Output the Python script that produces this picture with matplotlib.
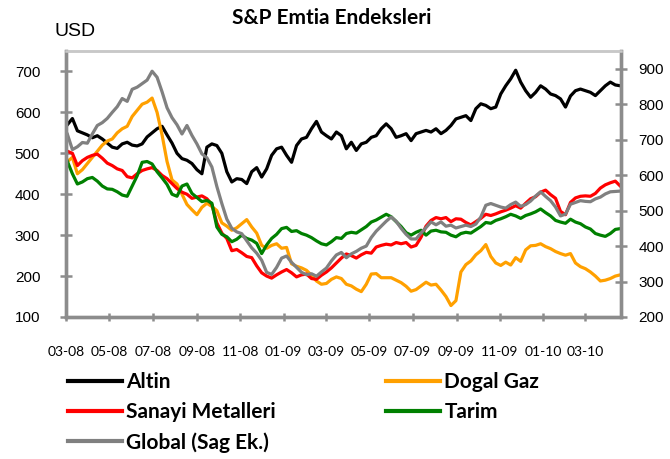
import matplotlib
matplotlib.use("Agg")
import matplotlib.pyplot as plt
import matplotlib.dates as mdates
from matplotlib.lines import Line2D
import pandas as pd

dates = pd.date_range("2008-03-03", periods=112, freq="7D")

altin = [570,585,555,550,545,538,543,535,525,515,512,523,527,520,518,523,540,550,560,566,545,525,500,487,483,475,460,450,515,523,519,500,455,430,438,
         436,426,455,465,442,462,495,511,515,495,478,519,535,539,560,578,552,543,535,552,543,511,527,507,523,527,539,543,560,572,560,539,543,548,531,548,552,
         556,552,560,548,556,568,584,588,592,580,609,621,617,609,613,645,665,682,703,674,653,637,649,665,657,645,641,633,613,640,653,657,653,649,641,653,665,674,667,665]
dogal_gaz = [480,490,450,460,475,490,505,520,530,535,550,560,566,590,605,620,625,635,600,545,480,435,425,400,375,362,350,368,378,370,360,330,322,312,318,
             328,338,320,305,275,268,275,279,268,270,230,224,220,214,202,188,180,182,192,198,194,180,176,168,162,180,205,206,196,196,196,190,184,175,163,167,176,
             185,178,180,166,150,128,140,210,228,237,252,262,277,248,232,226,234,227,245,236,264,274,275,279,272,267,260,255,251,255,232,223,218,210,200,188,190,194,200,203]
sanayi = [505,500,470,482,490,495,498,488,476,470,462,458,443,440,450,458,462,465,458,446,438,426,414,405,400,390,393,396,389,375,330,305,292,262,265,
          257,248,245,225,208,200,195,203,210,216,208,198,203,205,194,192,202,210,220,232,244,254,250,244,252,258,256,271,275,278,276,282,279,282,271,275,295,
          322,336,343,340,343,333,340,339,331,325,333,341,351,348,352,357,361,366,372,366,378,389,394,405,410,399,390,358,350,380,391,395,396,395,402,415,423,428,432,420]
tarim = [480,450,425,430,438,441,432,420,413,412,406,398,395,420,445,478,480,474,455,440,424,400,395,420,425,402,392,382,385,378,320,302,296,284,290,
         300,292,288,280,255,276,292,302,316,319,309,311,304,300,294,286,279,276,284,294,292,304,307,305,313,321,332,337,344,351,345,333,321,306,300,307,312,
         300,310,312,308,307,300,296,304,307,305,313,321,331,329,336,340,345,351,347,341,348,352,357,364,355,347,336,332,329,339,332,328,320,315,304,300,297,304,314,316]
global_idx = [715,672,680,692,690,716,740,748,760,777,793,816,808,842,848,858,868,893,876,835,790,762,742,716,740,712,688,660,649,623,568,520,476,450,440,
              435,415,395,380,360,326,320,340,366,372,354,340,326,319,322,315,327,338,358,375,382,367,378,385,394,400,424,442,456,470,482,470,450,433,420,420,437,
              452,468,460,468,456,459,451,455,459,455,462,482,515,520,515,510,507,517,524,512,517,527,541,553,540,528,510,485,490,518,523,528,526,525,533,538,547,553,554,555]

labels = ["Altin", "Dogal Gaz", "Sanayi Metalleri", "Tarim", "Global (Sag Ek.)"]
colors = ["#000000", "#FFA000", "#FF0000", "#008000", "#808080"]
left_ticks = [100, 200, 300, 400, 500, 600, 700]
right_ticks = [200, 300, 400, 500, 600, 700, 800, 900]
title = "S&P Emtia Endeksleri"

W, H = 670, 459
fig = plt.figure(figsize=(W/100, H/100), dpi=100)
ax = fig.add_axes([66/W, 1-317/H, (621-66)/W, (317-51)/H])
ax2 = ax.twinx()

lw = 2.3
for series, c in zip([altin, dogal_gaz, sanayi, tarim], colors[:4]):
    ax.plot(dates, series, color=c, lw=lw, solid_joinstyle="round")
ax2.plot(dates, global_idx, color=colors[4], lw=lw, solid_joinstyle="round")

ax.set_ylim(100, 750)
ax2.set_ylim(200, 950)
ax.set_yticks(left_ticks)
ax2.set_yticks(right_ticks)
ax.set_xlim(pd.Timestamp("2008-03-01"), pd.Timestamp("2010-04-20"))
ax.xaxis.set_major_locator(mdates.MonthLocator(bymonth=[1, 3, 5, 7, 9, 11]))
ax.xaxis.set_major_formatter(mdates.DateFormatter("%m-%y"))

spine_c = "#8C8C8C"
for a in (ax, ax2):
    for s in ("left", "right", "bottom"):
        a.spines[s].set_color(spine_c)
        a.spines[s].set_linewidth(2.4)
    a.spines["top"].set_color("#C8C8C8")
    a.spines["top"].set_linewidth(1.8)

ax.tick_params(axis="x", direction="inout", length=6, width=1.8, color=spine_c,
               pad=18, labelsize=10, labelcolor="black")
ax.tick_params(axis="y", direction="inout", length=9, width=1.8, color=spine_c,
               pad=14, labelsize=11)
ax2.tick_params(axis="y", direction="inout", length=9, width=1.8, color=spine_c,
                pad=8, labelsize=11)
for lab in ax.get_xticklabels():
    lab.set_fontfamily("Lato")
for lab in ax.get_yticklabels() + ax2.get_yticklabels():
    lab.set_fontfamily("Liberation Sans")

fig.text(332/W, 1-18/H, title, ha="center", va="center", fontsize=15,
         fontweight="bold", family="Lato")
fig.text(54/W, 1-32/H, "USD", ha="left", va="center", fontsize=14,
         family="Liberation Sans")

def handle(c):
    return Line2D([], [], color=c, lw=3)

leg_kw = dict(frameon=False, loc="upper left", borderpad=0, borderaxespad=0,
              handlelength=2.6, handletextpad=0.2, labelspacing=0.48,
              prop={"family": "Lato", "weight": "bold", "size": 15})
l1 = fig.legend([handle(colors[0]), handle(colors[2]), handle(colors[4])],
                [labels[0], labels[2], labels[4]],
                bbox_to_anchor=(68/W, 1-372/H), **leg_kw)
l2 = fig.legend([handle(colors[1]), handle(colors[3])],
                [labels[1], labels[3]],
                bbox_to_anchor=(386/W, 1-372/H), **leg_kw)

fig.savefig("out.png", dpi=100)
